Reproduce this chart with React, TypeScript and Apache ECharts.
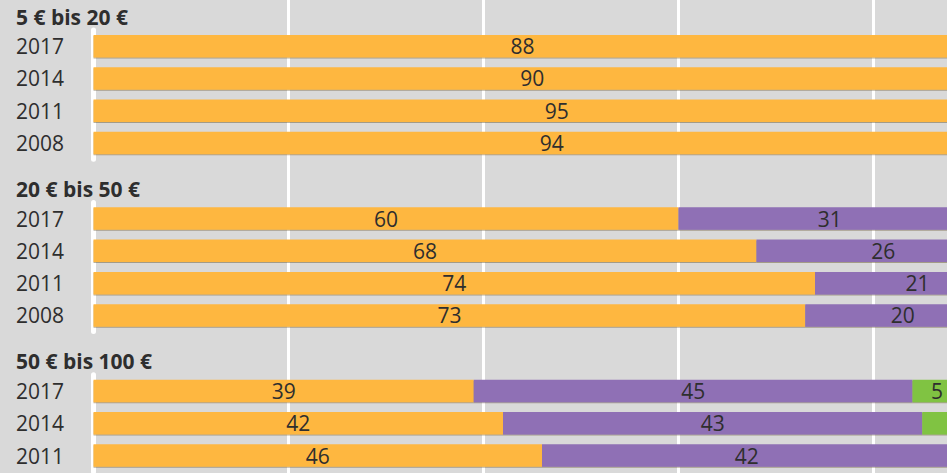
import React, { useEffect, useRef } from 'react';
import * as echarts from 'echarts';

// ---- data ----
const groupTitles = ['5 € bis 20 €', '20 € bis 50 €', '50 € bis 100 €'];
const yearsByGroup = [
  ['2017', '2014', '2011', '2008'],
  ['2017', '2014', '2011', '2008'],
  ['2017', '2014', '2011'],
];
const seriesNames = ['Bargeld', 'Girocard', 'Kreditkarte'];
const cashShares = [
  [88, 90, 95, 94],
  [60, 68, 74, 73],
  [39, 42, 46],
];
const girocardShares = [
  [],
  [31, 26, 21, 20],
  [45, 43, 42],
];
const creditCardShares = [
  [],
  [],
  [5, 7],
];
const gridTicks = [0, 20, 40, 60, 80, 100];

const FONT = '"Open Sans", "Noto Sans", sans-serif';
const COLORS = ['#feb740', '#8f70b5', '#80c342'];
const TEXT = '#2e2e2e';
const VIEW_W = 947;
const VIEW_H = 473;

export default function App() {
  const ref = useRef<HTMLDivElement>(null);
  useEffect(() => {
    if (!ref.current) return;
    const chart = echarts.init(ref.current, undefined, { renderer: 'svg' });

    const GRID_LEFT = 93.5;
    const GRID_WIDTH = 975; // 0..100
    const ROW_H = 32.3;
    const FIRST_TOP = 30;
    const GROUP_STEP = 172.4;
    const AX_MAX = gridTicks[gridTicks.length - 1];
    const AX_INT = gridTicks[1] - gridTicks[0];
    // largest axis value still inside the visible page
    const visibleMax = ((VIEW_W - GRID_LEFT) / GRID_WIDTH) * AX_MAX;

    const grids: any[] = [];
    const xAxes: any[] = [];
    const yAxes: any[] = [];
    const series: any[] = [];
    const graphics: any[] = [];
    const allShares = [cashShares, girocardShares, creditCardShares];

    groupTitles.forEach((title, g) => {
      const top = FIRST_TOP + g * GROUP_STEP;
      const years = yearsByGroup[g];
      grids.push({
        left: GRID_LEFT,
        width: GRID_WIDTH,
        top,
        height: years.length * ROW_H,
        containLabel: false,
        outerBoundsMode: 'none',
      });
      xAxes.push({
        gridIndex: g,
        type: 'value',
        min: 0,
        max: AX_MAX,
        interval: AX_INT,
        show: false,
      });
      yAxes.push({
        gridIndex: g,
        type: 'category',
        data: years,
        inverse: true,
        offset: 3,
        axisLine: { show: true, lineStyle: { color: '#ffffff', width: 5 } },
        axisTick: { show: false },
        splitLine: { show: false },
        axisLabel: {
          align: 'left',
          margin: 74.5,
          color: TEXT,
          fontSize: 21,
          fontFamily: FONT,
        },
      });
      graphics.push({
        type: 'text',
        x: 16,
        y: top - 13.5,
        style: {
          text: title,
          fill: TEXT,
          fontSize: 21,
          fontWeight: 'bold',
          fontFamily: FONT,
          verticalAlign: 'middle',
        },
      });
      seriesNames.forEach((name, s) => {
        const vals = allShares[s][g];
        if (!vals || vals.length === 0) return;
        series.push({
          name,
          type: 'bar',
          xAxisIndex: g,
          yAxisIndex: g,
          stack: 'g' + g,
          barWidth: 22.5,
          data: vals,
          itemStyle: {
            color: COLORS[s],
            shadowColor: 'rgba(100,80,40,0.45)',
            shadowOffsetY: 1,
            shadowBlur: 0,
          },
          label: {
            show: true,
            position: 'inside',
            color: TEXT,
            fontSize: 21,
            fontFamily: FONT,
            formatter: (p: any) => {
              let before = 0;
              for (let k = 0; k < s; k++) {
                const v = allShares[k][g][p.dataIndex];
                if (typeof v === 'number') before += v;
              }
              const center = before + p.value / 2;
              return center > visibleMax ? '' : String(p.value);
            },
          },
          emphasis: { disabled: true },
        });
      });
    });

    // full-height background grid for the white vertical gridlines
    const bg = groupTitles.length;
    grids.push({
      left: GRID_LEFT,
      width: GRID_WIDTH,
      top: 0,
      height: VIEW_H,
      outerBoundsMode: 'none',
    });
    xAxes.push({
      gridIndex: bg,
      type: 'value',
      min: 0,
      max: AX_MAX,
      interval: AX_INT,
      axisLine: { show: false },
      axisTick: { show: false },
      axisLabel: { show: false },
      splitLine: {
        show: true,
        showMinLine: false,
        lineStyle: { color: '#ffffff', width: 3 },
      },
    });
    yAxes.push({ gridIndex: bg, type: 'value', show: false });

    chart.setOption({
      animation: false,
      backgroundColor: '#d9d9d9',
      grid: grids,
      xAxis: xAxes,
      yAxis: yAxes,
      series,
      graphic: graphics,
    });
    return () => chart.dispose();
  }, []);
  return (
    <div
      ref={ref}
      style={{ position: 'fixed', left: 0, top: 0, width: VIEW_W, height: VIEW_H }}
    />
  );
}
